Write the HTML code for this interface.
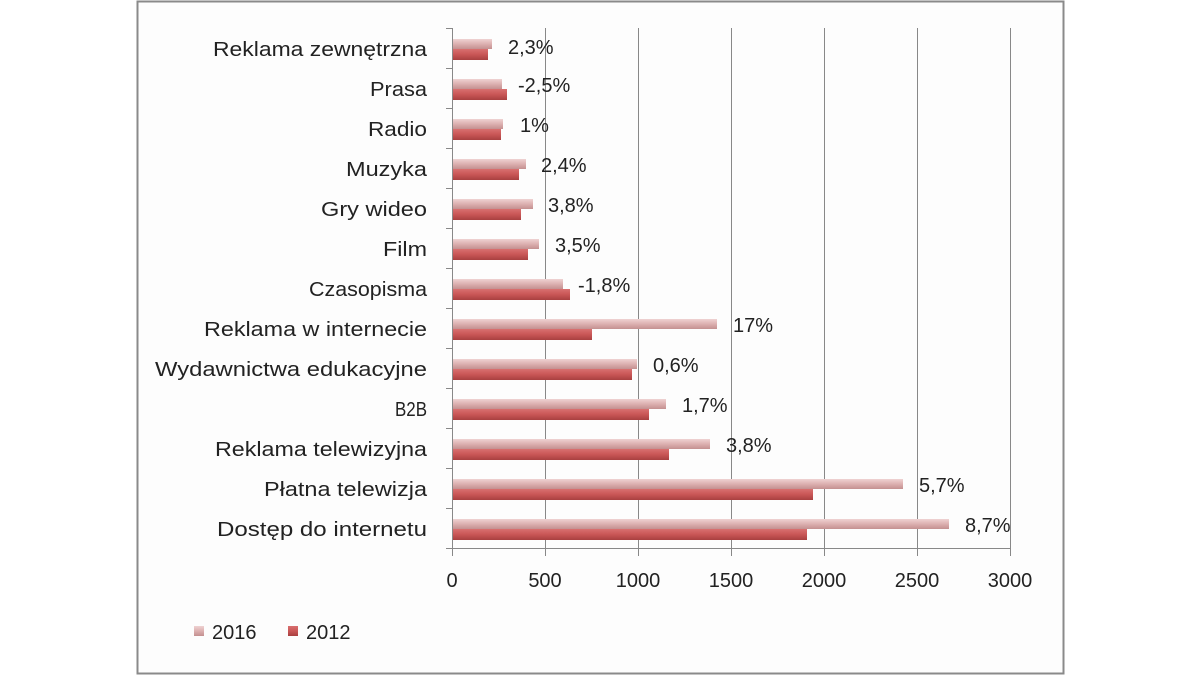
<!DOCTYPE html>
<html><head><meta charset="utf-8"><style>
html,body{margin:0;padding:0;background:#fff;}
svg{display:block;}
text{font-family:"Liberation Sans",sans-serif;fill:#222;}
</style></head><body>
<svg width="1200" height="675" viewBox="0 0 1200 675" xmlns="http://www.w3.org/2000/svg">
<defs>
<linearGradient id="p" x1="0" y1="0" x2="0" y2="1"><stop offset="0" stop-color="#efd2d2"/><stop offset="0.5" stop-color="#dcb0b0"/><stop offset="1" stop-color="#c49090"/></linearGradient>
<linearGradient id="r" x1="0" y1="0" x2="0" y2="1"><stop offset="0" stop-color="#d87070"/><stop offset="0.5" stop-color="#c95656"/><stop offset="1" stop-color="#a84040"/></linearGradient>
</defs>
<rect x="0" y="0" width="1200" height="675" fill="#fff"/>
<rect x="137.5" y="1.5" width="926" height="672" fill="#fdfdfd" stroke="#8a8a8a" stroke-width="2"/>
<g stroke="#888" stroke-width="1">
<line x1="545.5" y1="28" x2="545.5" y2="548"/>
<line x1="638.5" y1="28" x2="638.5" y2="548"/>
<line x1="731.5" y1="28" x2="731.5" y2="548"/>
<line x1="824.5" y1="28" x2="824.5" y2="548"/>
<line x1="917.5" y1="28" x2="917.5" y2="548"/>
<line x1="1010.5" y1="28" x2="1010.5" y2="548"/>
<line x1="452.5" y1="28" x2="452.5" y2="556"/>
<line x1="452" y1="548.5" x2="1010" y2="548.5"/>
<line x1="545.5" y1="548" x2="545.5" y2="556"/><line x1="638.5" y1="548" x2="638.5" y2="556"/><line x1="731.5" y1="548" x2="731.5" y2="556"/><line x1="824.5" y1="548" x2="824.5" y2="556"/><line x1="917.5" y1="548" x2="917.5" y2="556"/><line x1="1010.5" y1="548" x2="1010.5" y2="556"/>
<line x1="446" y1="28.5" x2="452" y2="28.5"/><line x1="446" y1="68.5" x2="452" y2="68.5"/><line x1="446" y1="108.5" x2="452" y2="108.5"/><line x1="446" y1="148.5" x2="452" y2="148.5"/><line x1="446" y1="188.5" x2="452" y2="188.5"/><line x1="446" y1="228.5" x2="452" y2="228.5"/><line x1="446" y1="268.5" x2="452" y2="268.5"/><line x1="446" y1="308.5" x2="452" y2="308.5"/><line x1="446" y1="348.5" x2="452" y2="348.5"/><line x1="446" y1="388.5" x2="452" y2="388.5"/><line x1="446" y1="428.5" x2="452" y2="428.5"/><line x1="446" y1="468.5" x2="452" y2="468.5"/><line x1="446" y1="508.5" x2="452" y2="508.5"/><line x1="446" y1="548.5" x2="452" y2="548.5"/>
</g>
<g>
<rect x="453" y="39" width="39" height="10" fill="url(#p)"/><rect x="453" y="49" width="35" height="11" fill="url(#r)"/>
<rect x="453" y="79" width="49" height="10" fill="url(#p)"/><rect x="453" y="89" width="54" height="11" fill="url(#r)"/>
<rect x="453" y="119" width="50" height="10" fill="url(#p)"/><rect x="453" y="129" width="48" height="11" fill="url(#r)"/>
<rect x="453" y="159" width="73" height="10" fill="url(#p)"/><rect x="453" y="169" width="66" height="11" fill="url(#r)"/>
<rect x="453" y="199" width="80" height="10" fill="url(#p)"/><rect x="453" y="209" width="68" height="11" fill="url(#r)"/>
<rect x="453" y="239" width="86" height="10" fill="url(#p)"/><rect x="453" y="249" width="75" height="11" fill="url(#r)"/>
<rect x="453" y="279" width="110" height="10" fill="url(#p)"/><rect x="453" y="289" width="117" height="11" fill="url(#r)"/>
<rect x="453" y="319" width="264" height="10" fill="url(#p)"/><rect x="453" y="329" width="139" height="11" fill="url(#r)"/>
<rect x="453" y="359" width="184" height="10" fill="url(#p)"/><rect x="453" y="369" width="179" height="11" fill="url(#r)"/>
<rect x="453" y="399" width="213" height="10" fill="url(#p)"/><rect x="453" y="409" width="196" height="11" fill="url(#r)"/>
<rect x="453" y="439" width="257" height="10" fill="url(#p)"/><rect x="453" y="449" width="216" height="11" fill="url(#r)"/>
<rect x="453" y="479" width="450" height="10" fill="url(#p)"/><rect x="453" y="489" width="360" height="11" fill="url(#r)"/>
<rect x="453" y="519" width="496" height="10" fill="url(#p)"/><rect x="453" y="529" width="354" height="11" fill="url(#r)"/>
</g>
<g font-size="20" text-anchor="end">
<text x="427" y="56" textLength="214" lengthAdjust="spacingAndGlyphs">Reklama zewnętrzna</text>
<text x="427" y="96" textLength="57" lengthAdjust="spacingAndGlyphs">Prasa</text>
<text x="427" y="136" textLength="59" lengthAdjust="spacingAndGlyphs">Radio</text>
<text x="427" y="176" textLength="81" lengthAdjust="spacingAndGlyphs">Muzyka</text>
<text x="427" y="216" textLength="106" lengthAdjust="spacingAndGlyphs">Gry wideo</text>
<text x="427" y="256" textLength="44" lengthAdjust="spacingAndGlyphs">Film</text>
<text x="427" y="296" textLength="118" lengthAdjust="spacingAndGlyphs">Czasopisma</text>
<text x="427" y="336" textLength="223" lengthAdjust="spacingAndGlyphs">Reklama w internecie</text>
<text x="427" y="376" textLength="272" lengthAdjust="spacingAndGlyphs">Wydawnictwa edukacyjne</text>
<text x="427" y="416" textLength="32" lengthAdjust="spacingAndGlyphs">B2B</text>
<text x="427" y="456" textLength="212" lengthAdjust="spacingAndGlyphs">Reklama telewizyjna</text>
<text x="427" y="496" textLength="163" lengthAdjust="spacingAndGlyphs">Płatna telewizja</text>
<text x="427" y="536" textLength="210" lengthAdjust="spacingAndGlyphs">Dostęp do internetu</text>
</g>
<g font-size="20">
<text x="508" y="54">2,3%</text>
<text x="518" y="92">-2,5%</text>
<text x="520" y="132">1%</text>
<text x="541" y="172">2,4%</text>
<text x="548" y="212">3,8%</text>
<text x="555" y="252">3,5%</text>
<text x="578" y="292">-1,8%</text>
<text x="733" y="332">17%</text>
<text x="653" y="372">0,6%</text>
<text x="682" y="412">1,7%</text>
<text x="726" y="452">3,8%</text>
<text x="919" y="492">5,7%</text>
<text x="965" y="532">8,7%</text>
</g>
<g font-size="20" text-anchor="middle">
<text x="452" y="587">0</text><text x="545" y="587">500</text><text x="638" y="587">1000</text><text x="731" y="587">1500</text><text x="824" y="587">2000</text><text x="917" y="587">2500</text><text x="1010" y="587">3000</text>
</g>
<rect x="194" y="626" width="10" height="10" fill="url(#p)"/>
<text x="212" y="639" font-size="20">2016</text>
<rect x="288" y="626" width="10" height="10" fill="url(#r)"/>
<text x="306" y="639" font-size="20">2012</text>
</svg>
</body></html>
